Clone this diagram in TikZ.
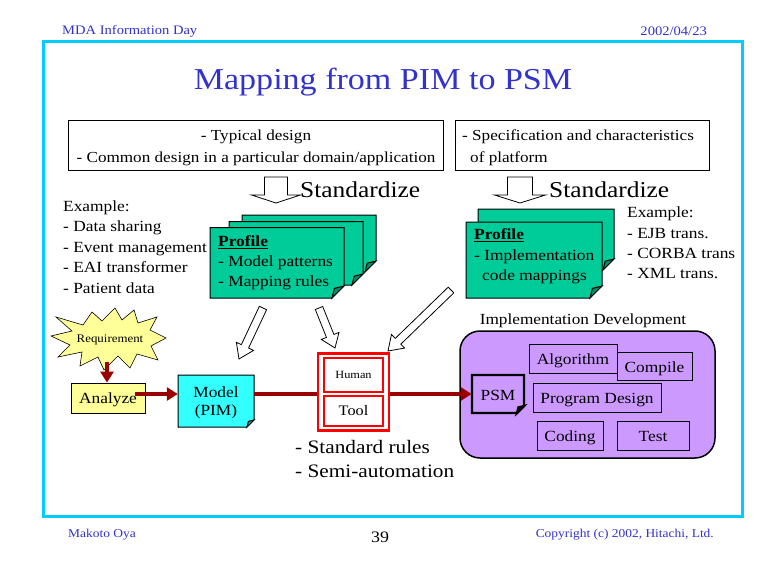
\documentclass[tikz,border=0pt]{standalone}
\usepackage{fontspec}
\setmainfont{Liberation Serif}[FakeStretch=1.12]
\usetikzlibrary{arrows.meta,calc}
\definecolor{titleblue}{RGB}{51,51,204}
\definecolor{framecyan}{RGB}{0,204,255}
\definecolor{profgreen}{RGB}{0,204,153}
\definecolor{paleyellow}{RGB}{255,255,153}
\definecolor{modelcyan}{RGB}{51,255,255}
\definecolor{darkred}{RGB}{153,0,0}
\definecolor{implpurple}{RGB}{204,153,255}
\newcommand\fsz[2]{\fontsize{#1}{#2}\selectfont}
\newcommand\hollowarrow[5]{%
  \path ($(#2)!#5pt!(#1)$) coordinate (hb);
  \draw[hollowstyle] ($(#1)!#3pt!90:(#2)$) -- ($(hb)!#3pt!90:(#2)$) -- ($(hb)!#4pt!90:(#2)$) -- (#2)
    -- ($(hb)!#4pt!-90:(#2)$) -- ($(hb)!#3pt!-90:(#2)$) -- ($(#1)!#3pt!-90:(#2)$) -- cycle;}
\newcommand\foldsheet[7]{%
  \draw[sheetline, fill=#6] (#1,#2) -- (#3,#2) -- (#3,{#4-#5}) -- ({#3-#5},#4) -- (#1,#4) -- cycle;
  \draw[sheetline, fill=#6!70!black] (#3,{#4-#5}) -- ({#3-#5},#4) -- ({#3-0.8*#5},{#4-0.8*#5}) -- cycle;
  \node[inner sep=0, minimum width={#3-#1}, minimum height={#4-#2}] (#7) at ({(#1+#3)/2},{(#2+#4)/2}) {};}
\tikzset{
  hollowstyle/.style={draw=black, fill=white, line width=0.8pt, line join=miter},
  sheetline/.style={draw=black, line width=1pt, line join=miter},
  hdr/.style={text=titleblue, inner sep=0, font=\fsz{13}{15}},
  ftr/.style={text=titleblue, inner sep=0, font=\fsz{12}{14}},
  tbox/.style={draw=black, line width=0.8pt, inner sep=0},
  btext/.style={inner sep=0, font=\fsz{15.3}{22}},
  plain/.style={inner sep=0, font=\fsz{15.5}{20.5}, align=left},
  redarr/.style={draw=darkred, line width=3.5pt, -{Triangle[length=11pt,width=13pt]}},
  redline/.style={draw=darkred, line width=3.5pt},
  redbox/.style={draw=red, line width=2.5pt, inner sep=0},
  subbox/.style={draw=black, line width=0.8pt, fill=implpurple, inner sep=0, font=\fsz{15.5}{18},
    minimum height=29, text height=12pt, text depth=0pt},
}
\begin{document}
\begin{tikzpicture}[x=1pt,y=-1pt]
\useasboundingbox (0,0) rectangle (769,578);
\fill[white] (0,0) rectangle (769,578);
% header and footer
\node[hdr, anchor=west] (hl) at (62,31) {MDA Information Day};
\node[hdr, anchor=east] (hr) at (707,31) {2002/04/23};
\draw[framecyan, line width=3pt] (43,42) rectangle (742,516);
\node[ftr, anchor=west] (fl) at (68,535) {Makoto Oya};
\node[inner sep=0, font=\fsz{16}{18}] (pg) at (380,537) {39};
\node[ftr, anchor=east] (fr) at (714,535) {Copyright (c) 2002, Hitachi, Ltd.};
% title
\node[text=titleblue, inner sep=0, font=\fsz{30.4}{34}] (title) at (383,82) {Mapping from PIM to PSM};
% top boxes
\node[tbox, minimum width=375, minimum height=50] (b1) at (255.5,145) {};
\node[btext, align=center] (b1text) at (256,147.5)
  {- Typical design\\- Common design in a particular domain/application};
\node[tbox, minimum width=254, minimum height=50] (b2) at (582,145) {};
\node[btext, align=left, anchor=west] (b2text) at (462,147.5)
  {- Specification and characteristics\\\hspace*{8pt}of platform};
% standardize arrows
\coordinate (s1t) at (276,177); \coordinate (s1h) at (276,203);
\hollowarrow{s1t}{s1h}{11.5}{24.5}{8}
\node[inner sep=0, anchor=west, font=\fsz{22.7}{26}] (std1) at (300,190) {Standardize};
\coordinate (s2t) at (520,177); \coordinate (s2h) at (520,203);
\hollowarrow{s2t}{s2h}{12.5}{25.5}{8}
\node[inner sep=0, anchor=west, font=\fsz{22.7}{26}] (std2) at (549,190) {Standardize};
% examples
\node[plain, anchor=west] (ex1) at (63,247) {Example:\\- Data sharing\\- Event management\\- EAI transformer\\- Patient data};
\node[plain, anchor=west, font=\fsz{15.5}{20.3}] (ex2) at (627,243) {Example:\\- EJB trans.\\- CORBA trans\\- XML trans.};
% profile stack 1
\foldsheet{242}{215}{376}{272}{11}{profgreen}{p1c}
\foldsheet{229}{221.5}{363}{285}{11}{profgreen}{p1b}
\foldsheet{210}{227.5}{344}{298}{12}{profgreen}{p1a}
\node[plain, anchor=west, font=\fsz{15.5}{20}] (p1text) at (218,262.5) {\textbf{\underline{Profile}}\\- Model patterns\\- Mapping rules};
% profile stack 2
\foldsheet{478}{209}{614}{270}{11}{profgreen}{p2b}
\foldsheet{466}{222}{602}{298}{12}{profgreen}{p2a}
\node[plain, anchor=west, font=\fsz{15.5}{20.5}] (p2text) at (474,256.5) {\textbf{\underline{Profile}}\\- Implementation\\\hspace*{8pt}code mappings};
% diagonal hollow arrows
\coordinate (dat) at (263,308); \coordinate (dah) at (239,359);
\hollowarrow{dat}{dah}{4}{9.5}{14}
\coordinate (dbt) at (319,308); \coordinate (dbh) at (335,348);
\hollowarrow{dbt}{dbh}{4}{9.5}{13}
\coordinate (dct) at (451,290); \coordinate (dch) at (388,351);
\hollowarrow{dct}{dch}{4}{9.5}{14}
% requirement star
\draw[fill=paleyellow, draw=black, line width=0.6pt, line join=miter]
  (56,317) -- (83,325) -- (92,312) -- (102,321) -- (115,308) -- (122,320) -- (134,310) -- (138,323)
  -- (157,317) -- (150,330) -- (166,338) -- (151,346) -- (158,360) -- (137,354) -- (130,368)
  -- (118,356) -- (104,370) -- (98,357) -- (80,366) -- (82,352) -- (58,357) -- (70,345)
  -- (51,336) -- (72,331) -- cycle;
\node[inner sep=0, font=\fsz{11.5}{13}] (req) at (110,339.5) {Requirement};
\coordinate (reqb) at (107,362);
% analyze and model
\node[draw=black, line width=0.8pt, fill=paleyellow, minimum width=74, minimum height=30, inner sep=0] (analyze) at (108,398) {};
\node[inner sep=0, font=\fsz{15.5}{18}] (analyzetext) at (108,399.5) {Analyze};
\draw[redarr] (reqb) -- (reqb |- analyze.north);
\foldsheet{178}{375}{254}{427}{7}{modelcyan}{model}
\node[inner sep=0, align=center, font=\fsz{15.5}{18.5}] (modeltext) at (216,403) {Model\\(PIM)};
% tool
\node[redbox, minimum width=71, minimum height=77] (toolbox) at (353.5,392) {};
\node[redbox, minimum width=59, minimum height=34, font=\fsz{11}{13}] (human) at (353.5,375) {Human};
\node[redbox, minimum width=59, minimum height=30, font=\fsz{14.5}{16}] (tool) at (353.5,411) {Tool};
\node[plain, anchor=west, font=\fsz{19}{24}] (rules) at (295,459) {- Standard rules\\- Semi-automation};
% implementation
\node[inner sep=0, font=\fsz{15.4}{18}] (impllbl) at (583,321) {Implementation Development};
\node[draw=black, line width=1.5pt, fill=implpurple, rounded corners=20pt, minimum width=255, minimum height=127, inner sep=0] (impl) at (587.5,394.5) {};
\begin{scope}[sheetline/.append style={line width=2.2pt}]
\foldsheet{472}{375}{524}{413}{7}{implpurple}{psm}
\end{scope}
\node[inner sep=0, font=\fsz{15.5}{18}] (psmtext) at (498,395) {PSM};
\node[subbox, minimum width=88] (algo) at (573,358.5) {Algorithm};
\node[subbox, minimum width=75, minimum height=28] (compile) at (654.5,366) {Compile};
\node[subbox, minimum width=128] (pd) at (597,397.5) {Program Design};
\node[subbox, minimum width=66] (coding) at (570,435.5) {Coding};
\node[subbox, minimum width=72] (test) at (653,435.5) {Test};
% red flow
\draw[redarr] ($(analyze.east |- psm.west)+(-10pt,0)$) -- (model.west |- psm.west);
\draw[redline] (model.east |- psm.west) -- (toolbox.west |- psm.west);
\draw[redarr] (toolbox.east |- psm.west) -- (psm.west);
\end{tikzpicture}
\end{document}
